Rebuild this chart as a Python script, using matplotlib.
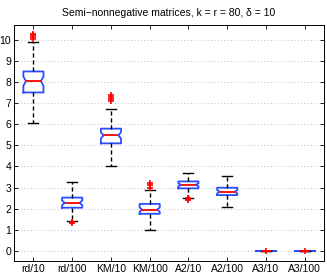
import matplotlib
matplotlib.use("Agg")
import matplotlib.pyplot as plt
import numpy as np

labels = ["rd/10", "rd/100", "KM/10", "KM/100", "A2/10", "A2/100", "A3/10", "A3/100"]
whislo = [6.07, 1.40, 4.00, 1.00, 2.50, 2.08, 0.0, 0.0]
q1     = [7.52, 2.04, 5.10, 1.75, 2.96, 2.64, 0.0, 0.0]
med    = [8.06, 2.27, 5.48, 1.95, 3.13, 2.80, 0.0, 0.0]
q3     = [8.52, 2.52, 5.80, 2.22, 3.29, 2.99, 0.0, 0.0]
whishi = [9.92, 3.25, 6.72, 2.86, 3.70, 3.55, 0.0, 0.0]
cilo   = [7.84, 2.16, 5.33, 1.85, 3.06, 2.72, 0.0, 0.0]
cihi   = [8.28, 2.38, 5.63, 2.05, 3.20, 2.88, 0.0, 0.0]
fliers = [[10.05, 10.15, 10.25, 10.3], [1.30, 1.37], [7.10, 7.2, 7.3, 7.4],
          [3.0, 3.1, 3.2], [2.40, 2.45, 2.5], [], [0.0], [0.0]]

stats = []
for i in range(len(labels)):
    stats.append(dict(label=labels[i], whislo=whislo[i], q1=q1[i], med=med[i],
                      q3=q3[i], whishi=whishi[i], cilo=cilo[i], cihi=cihi[i],
                      fliers=fliers[i]))

W = 0.52
positions = list(range(1, 9))
fig = plt.figure(figsize=(3.27, 2.76), dpi=100)
ax = fig.add_axes([0.043, 0.054, 0.948, 0.857])
res = ax.bxp(stats, positions=positions, widths=W, shownotches=True,
             boxprops=dict(color="#2a4dff", linewidth=1.3),
             medianprops=dict(color="red", linewidth=1.3),
             whiskerprops=dict(color="black", linestyle=(0, (3, 2)), linewidth=1.0),
             capprops=dict(color="black", linewidth=1.0),
             flierprops=dict(marker="+", markeredgecolor="red", markersize=4,
                             markeredgewidth=1.2, linestyle="none"))

# shallower notches (MATLAB style)
for pos, box, m in zip(positions, res["boxes"], res["medians"]):
    x = np.asarray(box.get_xdata(), dtype=float)
    inner = np.abs(np.abs(x - pos) - W * 0.25) < 1e-9
    x[inner] = pos + np.sign(x[inner] - pos) * W * 0.37
    box.set_xdata(x)
    mx = np.asarray(m.get_xdata(), dtype=float)
    if cilo[positions.index(pos)] != cihi[positions.index(pos)]:
        mx = pos + np.sign(mx - pos) * W * 0.37
    m.set_xdata(mx)

ax.set_xlim(0.5, 8.5)
ax.set_ylim(-0.5, 10.75)
ax.set_yticks(range(0, 11))
ax.set_xticks(positions)
ax.set_xticklabels(labels)
ax.yaxis.grid(True, linestyle=(0, (1, 3)), color="#aaaaaa", linewidth=0.6)
ax.set_axisbelow(True)
ax.tick_params(direction="in", length=3, width=0.6, top=True, right=True,
               labelsize=7.5, pad=2)
for s in ax.spines.values():
    s.set_linewidth(0.7)
for t in ax.get_xticklabels() + ax.get_yticklabels():
    t.set_fontfamily("Liberation Sans")
ax.set_title("Semi\u2212nonnegative matrices, k = r = 80, \u03b4 = 10",
             fontsize=7.5, family="Liberation Sans", pad=6)
fig.savefig("out.png", dpi=100)
